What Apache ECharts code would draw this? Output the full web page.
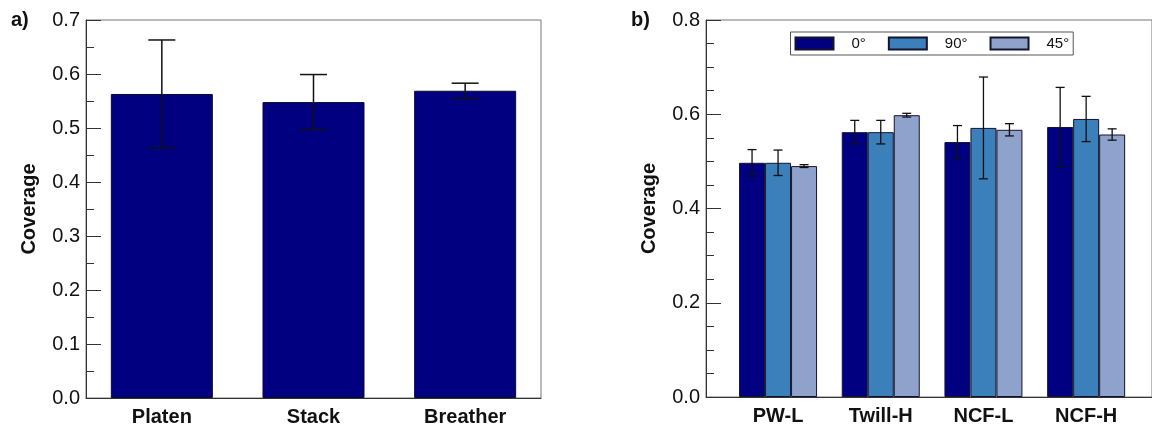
<!DOCTYPE html>
<html>
<head>
<meta charset="utf-8">
<script src="https://cdn.jsdelivr.net/npm/echarts@6/dist/echarts.min.js"></script>
<style>
  html, body { margin: 0; padding: 0; background: #fff; }
  #chart { width: 1152px; height: 427px; }
</style>
</head>
<body>
<div id="chart"></div>
<script>
// a) coverage per position
const leftCats = ['Platen', 'Stack', 'Breather'];
const leftMean = [0.563, 0.548, 0.569];
const leftErr = [0.100, 0.051, 0.014];

// b) coverage per fabric and ply angle
const rightCats = ['PW-L', 'Twill-H', 'NCF-L', 'NCF-H'];
const angles = ['0°', '90°', '45°'];
const mean0 = [0.497, 0.562, 0.541, 0.573];
const err0 = [0.028, 0.025, 0.035, 0.084];
const mean90 = [0.497, 0.562, 0.571, 0.590];
const err90 = [0.027, 0.025, 0.108, 0.048];
const mean45 = [0.490, 0.598, 0.567, 0.557];
const err45 = [0.003, 0.004, 0.013, 0.012];

const FONT = 'Liberation Sans, Arial, sans-serif';
const TXT = '#111';
const AXIS = '#333';
const FRAME = '#777';
const colors = ['#000080', '#3b7fbb', '#8ea2cc'];

function errData(mean, err) {
  return mean.map(function (m, i) { return [i, m, err[i]]; });
}

// error bar: vertical line plus two caps
function errRender(offset, capW, lw) {
  return function (params, api) {
    const x = api.value(0), m = api.value(1), e = api.value(2);
    const top = api.coord([x, m + e]);
    const bot = api.coord([x, m - e]);
    const cx = top[0] + offset;
    const h = capW / 2;
    const st = { stroke: '#111', lineWidth: lw };
    return {
      type: 'group',
      children: [
        { type: 'line', shape: { x1: cx, y1: top[1], x2: cx, y2: bot[1] }, style: st },
        { type: 'line', shape: { x1: cx - h, y1: top[1], x2: cx + h, y2: top[1] }, style: st },
        { type: 'line', shape: { x1: cx - h, y1: bot[1], x2: cx + h, y2: bot[1] }, style: st }
      ]
    };
  };
}

function yAxisCfg(grid, max, interval, minorSplit) {
  return {
    type: 'value', gridIndex: grid, min: 0, max: max, interval: interval,
    name: 'Coverage', nameLocation: 'middle', nameGap: 47,
    nameTextStyle: { fontFamily: FONT, fontSize: 20, fontWeight: 'bold', color: TXT },
    axisLine: { show: true, lineStyle: { color: AXIS, width: 1 } },
    axisTick: { show: true, inside: true, length: 15, lineStyle: { color: AXIS } },
    minorTick: { show: true, splitNumber: minorSplit, length: 8, lineStyle: { color: AXIS } },
    splitLine: { show: false },
    minorSplitLine: { show: false },
    axisLabel: {
      fontFamily: FONT, fontSize: 20, color: TXT, margin: 6,
      formatter: function (v) { return v.toFixed(1); }
    }
  };
}

const catLabel = { fontFamily: FONT, fontSize: 20, fontWeight: 'bold', color: TXT, margin: 9 };

const chart = echarts.init(document.getElementById('chart'), null, { renderer: 'canvas' });

const option = {
  animation: false,
  backgroundColor: '#fff',
  title: [
    { text: 'a)', left: 6, top: 5, textStyle: { fontFamily: FONT, fontSize: 20, fontWeight: 'bold', color: TXT } },
    { text: 'b)', left: 626, top: 5, textStyle: { fontFamily: FONT, fontSize: 20, fontWeight: 'bold', color: TXT } }
  ],
  grid: [
    { left: 86, top: 20, width: 455, height: 379, show: true, borderColor: FRAME, borderWidth: 1 },
    { left: 706, top: 20, width: 452, height: 377, show: true, borderColor: FRAME, borderWidth: 1 },
    { left: 726.7, top: 20, width: 410.8, height: 377 }
  ],
  legend: {
    data: angles,
    left: 790.5, top: 32,
    orient: 'horizontal',
    padding: [4, 4, 4, 4],
    itemWidth: 38, itemHeight: 12, itemGap: 22,
    backgroundColor: '#fff', borderColor: '#555', borderWidth: 1,
    icon: 'rect',
    textStyle: { fontFamily: FONT, fontSize: 15, color: TXT, width: 24, padding: [0, 0, 0, 13] }
  },
  xAxis: [
    {
      type: 'category', gridIndex: 0, data: leftCats,
      axisLine: { show: true, lineStyle: { color: AXIS } },
      axisTick: { show: false },
      axisLabel: catLabel
    },
    {
      type: 'value', gridIndex: 1, min: 0, max: 1,
      axisLine: { show: true, lineStyle: { color: AXIS } },
      axisTick: { show: false }, axisLabel: { show: false }, splitLine: { show: false }
    },
    {
      type: 'category', gridIndex: 2, data: rightCats,
      axisLine: { show: false }, axisTick: { show: false },
      axisLabel: catLabel
    }
  ],
  yAxis: [
    yAxisCfg(0, 0.7, 0.1, 2),
    yAxisCfg(1, 0.8, 0.2, 4),
    { type: 'value', gridIndex: 2, min: 0, max: 0.8, show: false }
  ],
  series: [
    {
      type: 'bar', xAxisIndex: 0, yAxisIndex: 0, data: leftMean, barWidth: 102,
      itemStyle: { color: colors[0], borderColor: '#0a0a30', borderWidth: 1 }
    },
    {
      type: 'custom', xAxisIndex: 0, yAxisIndex: 0, z: 5,
      data: errData(leftMean, leftErr),
      encode: { x: 0, y: 1 },
      renderItem: errRender(0, 27, 1.5)
    },
    {
      name: angles[0], type: 'bar', xAxisIndex: 2, yAxisIndex: 2, data: mean0,
      barWidth: 26, barGap: '0%',
      itemStyle: { color: colors[0], borderColor: '#14142e', borderWidth: 1 }
    },
    {
      name: angles[1], type: 'bar', xAxisIndex: 2, yAxisIndex: 2, data: mean90,
      barWidth: 26, barGap: '0%',
      itemStyle: { color: colors[1], borderColor: '#14142e', borderWidth: 1 }
    },
    {
      name: angles[2], type: 'bar', xAxisIndex: 2, yAxisIndex: 2, data: mean45,
      barWidth: 26, barGap: '0%',
      itemStyle: { color: colors[2], borderColor: '#14142e', borderWidth: 1 }
    },
    {
      type: 'custom', xAxisIndex: 2, yAxisIndex: 2, z: 5,
      data: errData(mean0, err0), encode: { x: 0, y: 1 },
      renderItem: errRender(-26, 9, 1.3)
    },
    {
      type: 'custom', xAxisIndex: 2, yAxisIndex: 2, z: 5,
      data: errData(mean90, err90), encode: { x: 0, y: 1 },
      renderItem: errRender(0, 9, 1.3)
    },
    {
      type: 'custom', xAxisIndex: 2, yAxisIndex: 2, z: 5,
      data: errData(mean45, err45), encode: { x: 0, y: 1 },
      renderItem: errRender(26, 9, 1.3)
    }
  ]
};

chart.setOption(option);
</script>
</body>
</html>
